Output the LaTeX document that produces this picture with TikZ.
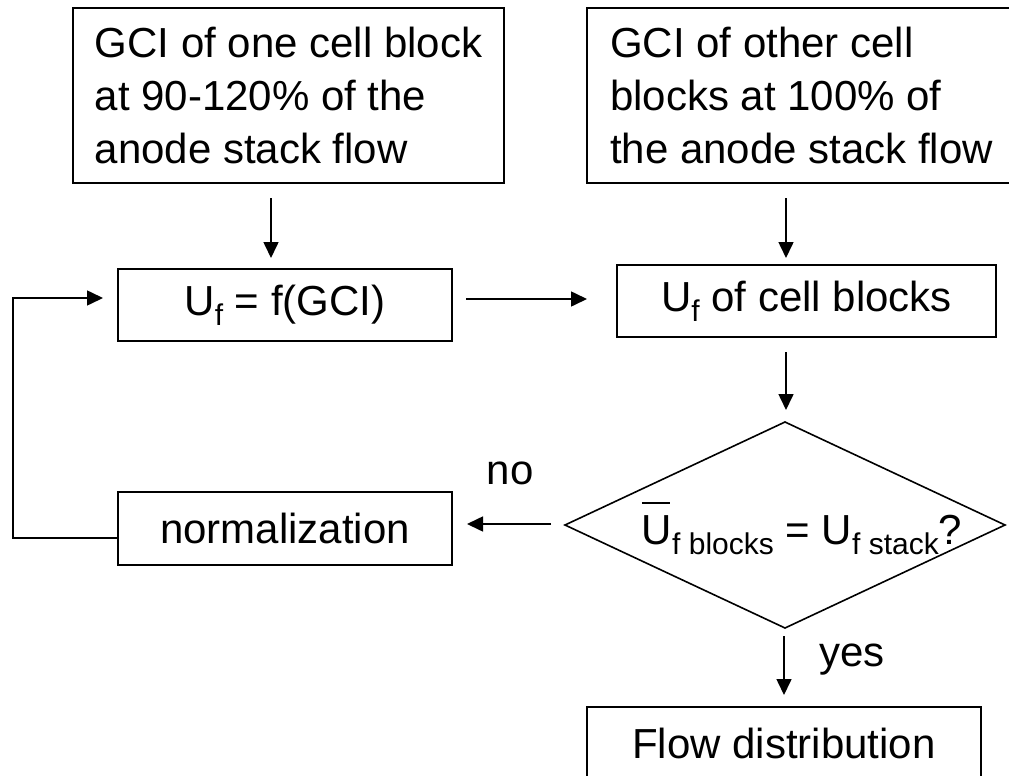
\documentclass[tikz,border=0pt]{standalone}
\usepackage{fontspec}
\setmainfont{Liberation Sans}
\usetikzlibrary{arrows.meta,shapes.geometric,calc}
\newcommand{\mysub}[1]{\raisebox{-10pt}{\fontsize{30}{30}\selectfont #1}}
\begin{document}
\begin{tikzpicture}[x=1pt,y=-1pt,
  box/.style={draw, line width=1.6pt, inner sep=0pt, outer sep=0pt, font=\fontsize{42}{53}\selectfont},
  arr/.style={line width=1.6pt, -{Triangle[length=16pt,width=15pt]}},
  lbl/.style={font=\fontsize{42}{53}\selectfont, inner sep=0pt}]
\useasboundingbox (0,0) rectangle (1009,776);

\node[box, minimum width=431pt, minimum height=175pt, align=left] (A) at (288.5,95.5)
  {GCI of one cell block\\at 90-120\% of the\\anode stack flow};
\node[box, minimum width=429pt, minimum height=175pt, align=left] (B) at (801.5,95.5)
  {GCI of other cell\\blocks at 100\% of\\the anode stack flow};
\node[box, minimum width=334pt, minimum height=72pt] (Uf) at (285,305)
  {U\mysub{f} = f(GCI)};
\node[box, minimum width=379pt, minimum height=72pt] (Ufc) at (806.5,301)
  {U\mysub{f} of cell blocks};
\node[box, minimum width=334pt, minimum height=73pt] (Norm) at (285,528.5)
  {normalization};
\node[draw, diamond, line width=1.6pt, minimum width=440pt, minimum height=206pt, inner sep=0pt, outer sep=0pt] (D) at (785,525) {};
\node[lbl, anchor=base] (Dt) at (802,544)
  {\rlap{\rule[40pt]{28pt}{2.5pt}}U\mysub{f blocks} = U\mysub{f stack}?};
\node[box, minimum width=394pt, minimum height=73pt] (Flow) at (784,743.5)
  {Flow distribution};
\node[lbl] (no) at (510,473) {no};
\node[lbl] (yes) at (852,660) {yes};
\coordinate (L) at (13,298);

\draw[arr] ($(A.south)+(-17.5,15)$) -- ($(Uf.north)+(-14,-11)$);
\draw[arr] ($(B.south)+(-15.5,15)$) -- ($(Ufc.north)+(-20.5,-7)$);
\draw[arr] ($(Uf.east)+(14,-6)$) -- ($(Ufc.west)+(-30,-2)$);
\draw[arr] ($(Ufc.south)+(-20.5,15)$) -- ($(D.north)+(1,-12)$);
\draw[arr] ($(D.west)+(-14,-1)$) -- ($(Norm.east)+(15,-4.5)$);
\draw[arr] ($(D.south)+(-1,8)$) -- ($(Flow.north)+(0,-12)$);
\draw[arr] ($(Norm.west)+(0,9.5)$) -| (L) -- ($(Uf.west)+(-15,-7)$);
\end{tikzpicture}
\end{document}
